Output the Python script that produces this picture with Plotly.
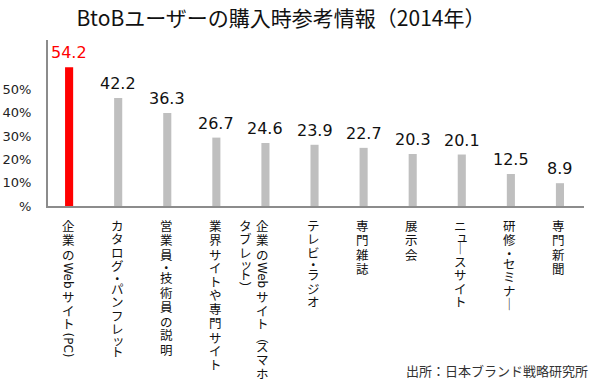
import re
import plotly.graph_objects as go

# ---------------- data ----------------
title_text = "BtoBユーザーの購入時参考情報（2014年）"
source_text = "出所：日本ブランド戦略研究所"
categories = [
    "企業のWebサイト(PC)",
    "カタログ・パンフレット",
    "営業員・技術員の説明",
    "業界サイトや専門サイト",
    "企業のWebサイト（スマホ\nタブレット）",
    "テレビ・ラジオ",
    "専門雑誌",
    "展示会",
    "ニュースサイト",
    "研修・セミナー",
    "専門新聞",
]
values = [54.2, 42.2, 36.3, 26.7, 24.6, 23.9, 22.7, 20.3, 20.1, 12.5, 8.9]
highlight = [True, False, False, False, False, False, False, False, False, False, False]
tick_labels = ["%", "10%", "20%", "30%", "40%", "50%"]

# ---------------- styles ----------------
RED = "#ff0000"
GREY = "#bfbfbf"
AXIS = "#8c8c8c"
CJK = "Noto Sans CJK JP"
LATIN = "DejaVu Sans"
TICK_STEP = 9.1

x_names = [c.replace("\n", "") for c in categories]

fig = go.Figure()
fig.add_trace(go.Bar(
    x=x_names, y=values,
    marker=dict(color=[RED if h else GREY for h in highlight], line=dict(width=0)),
    width=0.165, hoverinfo="skip",
))

annotations = []
# value labels
for name, v, h in zip(x_names, values, highlight):
    annotations.append(dict(
        x=name, y=v, xref="x", yref="y", text=f"{v}", showarrow=False,
        yanchor="bottom", xanchor="center", yshift=3,
        font=dict(family=LATIN, size=16, color=RED if h else "#111"),
    ))

# vertical (tategaki) category labels
LAT_RE = re.compile(r"[A-Za-z0-9()]+")
VERT_MAP = {"ー": "｜", "（": "︵", "）": "︶"}
SMALL = set("ッュャョィ・（）")
SHIFT_SMALL = set("ッュャョィ")
LAT_W = {"W": 1.0, "e": 0.62, "b": 0.64, "(": 0.39, ")": 0.39, "P": 0.6, "C": 0.7}
CJK_SIZE = 12.5
LAT_SIZE = 12
BASE = 12      # glyph top below axis
CJK_PAD = 4.5  # glyph top below annotation box top


def tokens(col):
    out, pos = [], 0
    for m in LAT_RE.finditer(col):
        out += [("c", ch) for ch in col[pos:m.start()]]
        out.append(("l", m.group()))
        pos = m.end()
    out += [("c", ch) for ch in col[pos:]]
    return out


for name, cat in zip(x_names, categories):
    cols = cat.split("\n")
    xshifts = [-1] if len(cols) == 1 else [-3, -20]
    for col, xs in zip(cols, xshifts):
        cur = 0.0
        for kind, t in tokens(col):
            if kind == "l":
                length = sum(LAT_W.get(ch, 0.62) for ch in t) * LAT_SIZE
                annotations.append(dict(
                    x=name, y=0, xref="x", yref="paper", text=t, showarrow=False,
                    textangle=90, xanchor="center", yanchor="top",
                    xshift=xs, yshift=-(BASE + cur),
                    font=dict(family=LATIN, size=LAT_SIZE, color="#111"),
                ))
                cur += length + 2
            else:
                small = t in SMALL
                code = ord(t)
                if small:
                    adv = 9
                elif 0x3040 <= code <= 0x30FF:
                    adv = 13.5
                else:
                    adv = 14.5
                off = cur - (1 if small else 0)
                dx = 0
                if t in SHIFT_SMALL:
                    off -= 1.5
                    dx = 1.5
                annotations.append(dict(
                    x=name, y=0, xref="x", yref="paper", text=VERT_MAP.get(t, t),
                    showarrow=False, xanchor="center", yanchor="top",
                    xshift=xs + dx, yshift=-(BASE + off - CJK_PAD),
                    font=dict(family=CJK, size=CJK_SIZE, color="#111"),
                ))
                cur += adv

# source
annotations.append(dict(
    x=1, y=0, xref="paper", yref="paper", text=source_text, showarrow=False,
    xanchor="right", yanchor="middle", xshift=6, yshift=-164,
    font=dict(family=CJK, size=13, color="#333"),
))

fig.update_layout(
    width=600, height=379,
    margin=dict(l=48, r=16, t=40, b=173, pad=0, autoexpand=False),
    paper_bgcolor="white", plot_bgcolor="white",
    showlegend=False,
    title=dict(text=title_text, x=281 / 600, xanchor="center", xref="container",
               y=1 - 19 / 379, yanchor="middle", yref="container", automargin=False,
               font=dict(family=CJK, size=21, color="#111")),
    xaxis=dict(type="category", range=[-0.43, 10.49], showline=True,
               linecolor=AXIS, linewidth=2, showticklabels=False, ticks="",
               showgrid=False, zeroline=False, fixedrange=True, automargin=False),
    yaxis=dict(range=[0, 64.8], showline=True, linecolor=AXIS, linewidth=2,
               tickvals=[i * TICK_STEP for i in range(len(tick_labels))],
               ticktext=tick_labels, ticks="", ticklabelstandoff=12,
               tickfont=dict(family=LATIN, size=13, color="#222"),
               showgrid=False, zeroline=False, fixedrange=True, automargin=False),
    annotations=annotations,
)

fig.write_html("out.html", config={"displayModeBar": False},
               post_script="document.body.style.margin='0';")
